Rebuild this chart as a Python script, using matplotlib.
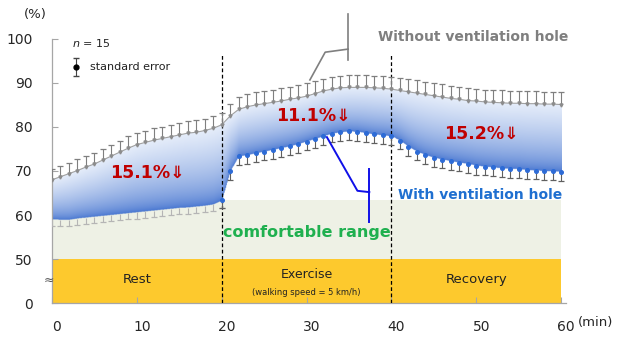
import numpy as np
import matplotlib
matplotlib.use("Agg")
import matplotlib.pyplot as plt
import matplotlib.transforms as mtransforms

# time (min)
minutes = np.arange(0, 61)

# humidity without ventilation hole (%)
without_hole = [68.0, 68.7, 69.4, 70.1, 70.9, 71.6, 72.5, 73.4, 74.3, 75.2,
                76.0, 76.5, 77.0, 77.4, 77.8, 78.2, 78.6, 78.8, 79.2, 79.7,
                80.5, 82.5, 84.0, 84.6, 85.0, 85.3, 85.6, 85.9, 86.3, 86.6,
                87.0, 87.6, 88.2, 88.6, 88.9, 89.0, 89.0, 89.0, 88.9, 88.8,
                88.6, 88.3, 88.0, 87.7, 87.4, 87.1, 86.8, 86.5, 86.3, 86.0,
                85.9, 85.7, 85.6, 85.5, 85.4, 85.4, 85.3, 85.3, 85.2, 85.2, 85.1]
without_err = [2.5, 2.5, 2.5, 2.6, 2.6, 2.6, 2.6, 2.6, 2.6, 2.7,
               2.7, 2.7, 2.7, 2.7, 2.7, 2.7, 2.7, 2.7, 2.7, 2.7,
               2.6, 2.8, 2.8, 2.9, 2.9, 2.9, 2.9, 2.9, 2.9, 2.9,
               2.9, 2.8, 2.8, 2.8, 2.8, 2.8, 2.8, 2.8, 2.8, 2.8,
               2.8, 2.9, 2.9, 2.9, 2.9, 2.9, 2.9, 2.9, 2.8, 2.8,
               2.8, 2.8, 2.8, 2.8, 2.8, 2.8, 2.8, 2.8, 2.8, 2.8, 2.8]

# humidity with ventilation hole (%)
with_hole = [59.0, 58.9, 58.9, 59.2, 59.4, 59.6, 59.8, 60.0, 60.2, 60.4,
             60.6, 60.8, 61.0, 61.2, 61.4, 61.6, 61.7, 61.9, 62.1, 62.4,
             63.3, 70.0, 73.3, 73.6, 74.0, 74.4, 74.8, 75.2, 75.6, 76.1,
             76.7, 77.3, 77.9, 78.5, 78.8, 79.0, 78.9, 78.6, 78.3, 78.1,
             77.9, 76.9, 75.5, 74.4, 73.6, 73.0, 72.6, 72.2, 71.9, 71.6,
             71.2, 71.0, 70.8, 70.6, 70.5, 70.4, 70.2, 70.1, 70.0, 69.9, 69.8]
with_err = [1.4, 1.4, 1.4, 1.4, 1.4, 1.4, 1.4, 1.4, 1.4, 1.4,
            1.4, 1.4, 1.4, 1.4, 1.4, 1.4, 1.4, 1.4, 1.4, 1.4,
            1.6, 2.0, 2.0, 2.0, 2.0, 2.0, 2.0, 2.0, 2.0, 2.0,
            2.0, 2.0, 2.0, 2.0, 2.0, 2.0, 2.0, 2.0, 2.0, 2.0,
            2.0, 2.0, 2.0, 2.0, 2.0, 2.0, 2.0, 2.0, 2.0, 2.0,
            2.0, 2.0, 2.0, 2.0, 2.0, 2.0, 2.0, 2.0, 2.0, 2.0, 2.0]

comfort_top = 63.4
phase_edges = [0, 20, 40, 60]
phase_names = ["Rest", "Exercise", "Recovery"]
reductions = ["15.1%\u21d3", "11.1%\u21d3", "15.2%\u21d3"]
reduction_pos = [(11.3, 69.5), (30.8, 82.5), (50.6, 78.4)]

# y axis is broken: 0 is drawn where 40 would be
y_ticks = [40, 50, 60, 70, 80, 90, 100]
y_labels = ["0", "50", "60", "70", "80", "90", "100"]
x_ticks = [0, 10, 20, 30, 40, 50, 60]

up = np.array(without_hole)
lo = np.array(with_hole)
up_err = np.array(without_err)
lo_err = np.array(with_err)


def one_sided_bars(ax, x, y, err, upward, color, z):
    # error bar drawn to one side only, cap on the far end
    if upward:
        yerr = [np.zeros_like(err), err]
    else:
        yerr = [err, np.zeros_like(err)]
    cont = ax.errorbar(x, y, yerr=yerr, fmt="none", ecolor=color,
                       elinewidth=0.8, capsize=2.4, capthick=0.9, zorder=z)
    caps = cont[1]
    # caps[0] is the lower end, caps[1] the upper end
    caps[0 if upward else 1].set_visible(False)
    return cont


fig = plt.figure(figsize=(6.24, 3.42), dpi=100)
ax = fig.add_axes([0.0833, 0.114, 0.824, 0.772])
ax.set_xlim(0, 60.6)
ax.set_ylim(40, 100)

# background bands
ax.fill_between([0, 60], 50, comfort_top, color="#eef1e5", lw=0, zorder=0)
ax.fill_between([0, 60], 40, 50, color="#fdc92d", lw=0, zorder=1)

# gradient band between the two curves
gx = np.linspace(0, 60, 700)
gy = np.linspace(55, 92, 500)
GX, GY = np.meshgrid(gx, gy)
top = np.interp(GX, minutes, up)
bot = np.interp(GX, minutes, lo)
frac = np.clip((GY - bot) / (top - bot), 0, 1)
inside = (GY >= bot) & (GY <= top)
dark = np.array([0.25, 0.44, 0.81])
light = np.array([0.90, 0.93, 0.98])
w = frac ** 0.55
img = np.zeros(GX.shape + (4,))
for k in range(3):
    img[..., k] = dark[k] + (light[k] - dark[k]) * w
img[..., 3] = inside.astype(float)
ax.imshow(img, extent=(0, 60, 55, 92), origin="lower", aspect="auto",
          interpolation="bilinear", zorder=2)

# phase separators
for xv in phase_edges[1:3]:
    ax.plot([xv, xv], [40, 96.4], color="black", lw=0.9, ls=(0, (3, 2)), zorder=3)

# without ventilation hole: upper error bars only
ax.plot(minutes, up, color="#a0a0a0", lw=0.8, zorder=4)
one_sided_bars(ax, minutes, up, up_err, True, "#7f7f7f", 4)
ax.plot(minutes, up, ls="none", marker="v", ms=2.2, color="#8c8c8c", zorder=4)

# with ventilation hole: lower error bars only
rest = minutes <= 20
act = minutes >= 20
one_sided_bars(ax, minutes[rest], lo[rest], lo_err[rest], False, "#b5b5b5", 4)
one_sided_bars(ax, minutes[act], lo[act], lo_err[act], False, "#606060", 4)
ax.plot(minutes[act], lo[act], ls="none", marker="o", ms=2.6,
        color="#2d6bd6", zorder=5)

# callouts
ax.plot([30.4, 32.2, 34.9], [90.7, 97.0, 97.7], color="#7f7f7f", lw=1.2,
        zorder=6, clip_on=False)
ax.plot([34.9, 34.9], [95.2, 105.7], color="#7f7f7f", lw=1.2, zorder=6,
        clip_on=False)
ax.plot([32.4, 36.0, 37.4], [77.7, 65.5, 65.2], color="#1010e8", lw=1.4,
        zorder=6)
ax.plot([37.4, 37.4], [58.4, 70.5], color="#1010e8", lw=1.4, zorder=6)

ax.text(49.6, 100.4, "Without ventilation hole", color="#7f7f7f",
        fontsize=10, fontweight="bold", ha="center", va="center", clip_on=False)
ax.text(50.5, 64.5, "With ventilation hole", color="#1f6fd0", fontsize=10,
        fontweight="bold", ha="center", va="center", zorder=7)
ax.text(30.0, 56.1, "comfortable range", color="#1fb04f", fontsize=11.5,
        fontweight="bold", ha="center", va="center", zorder=7)

for txt, (tx, ty) in zip(reductions, reduction_pos):
    ax.text(tx, ty, txt, color="#c00000", fontsize=12.5, fontweight="bold",
            ha="center", va="center", zorder=7)

# phase labels in the yellow band
for i, name in enumerate(phase_names):
    cx = (phase_edges[i] + phase_edges[i + 1]) / 2
    if name == "Exercise":
        ax.text(cx, 46.4, name, fontsize=9, ha="center", va="center",
                color="#222222", zorder=7)
        ax.text(cx, 42.4, "(walking speed = 5 km/h)", fontsize=6,
                ha="center", va="center", color="#222222", zorder=7)
    else:
        ax.text(cx, 45.3, name, fontsize=9.5, ha="center", va="center",
                color="#222222", zorder=7)

ax.text(-0.35, 45.2, "\u2248", fontsize=9, ha="center", va="center",
        color="#555555", clip_on=False, zorder=8)

# legend-like notes
ax.text(0.039, 0.985, "$n$ = 15", transform=ax.transAxes, fontsize=8,
        ha="left", va="center", color="#222222")
ax.errorbar([0.047], [0.894], yerr=[[0.034], [0.034]], fmt="o", ms=3.5,
            color="black", ecolor="#444444", elinewidth=0.8, capsize=2.5,
            transform=ax.transAxes, clip_on=False)
ax.text(0.074, 0.894, "standard error", transform=ax.transAxes, fontsize=8,
        ha="left", va="center", color="#222222")

# axes styling
for side in ["top", "right"]:
    ax.spines[side].set_visible(False)
for side in ["left", "bottom"]:
    ax.spines[side].set_color("#a6a6a6")
    ax.spines[side].set_linewidth(0.9)
ax.set_yticks(y_ticks)
ax.set_yticklabels(y_labels)
ax.set_xticks(x_ticks)
ax.tick_params(direction="in", length=4, color="#a6a6a6", labelsize=10,
               labelcolor="#262626")
ax.tick_params(axis="y", pad=14)
ax.tick_params(axis="x", pad=12)
shift = mtransforms.ScaledTranslation(5 / 100, 0, fig.dpi_scale_trans)
for lab in ax.get_xticklabels():
    lab.set_transform(lab.get_transform() + shift)

fig.text(0.056, 0.959, "(%)", fontsize=9.5, ha="center", va="center",
         color="#262626")
fig.text(0.955, 0.056, "(min)", fontsize=9.5, ha="center", va="center",
         color="#262626")

fig.savefig("out.png", dpi=100)
